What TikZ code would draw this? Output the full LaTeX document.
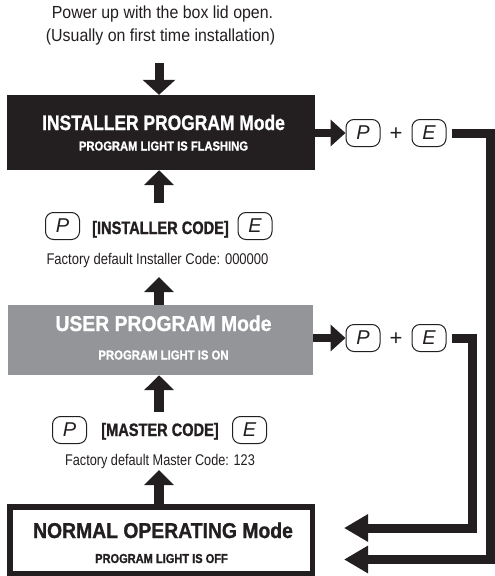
\documentclass[tikz,border=0pt]{standalone}
\usepackage{fontspec}
\setmainfont{Liberation Sans}
\usetikzlibrary{arrows.meta}
\definecolor{ink}{HTML}{231F20}
\definecolor{greybox}{HTML}{939598}
\newcommand\fsz[2]{\fontsize{#1}{#1}\selectfont\addfontfeatures{FakeStretch=#2}}
\newcommand\fbz[2]{\fontsize{#1}{#1}\selectfont\bfseries\addfontfeatures{FakeStretch=#2,FakeBold=1.1}}
\begin{document}
\begin{tikzpicture}[x=1pt,y=-1pt,
  txt/.style={anchor=base, inner sep=0pt, text=ink},
  keycap/.style={draw=ink, line width=1pt, rounded corners=8pt, minimum width=34pt, minimum height=27pt, inner sep=0pt, font=\fontsize{20}{20}\selectfont\itshape, text=ink},
  vdown/.style={draw=ink, line width=9pt, -{Triangle[length=15pt,width=32pt]}},
  vup/.style={draw=ink, line width=10pt, -{Triangle[length=15pt,width=29pt]}},
  hright/.style={draw=ink, line width=8.5pt, -{Triangle[length=15pt,width=26pt]}},
  loopline/.style={draw=ink, line width=9pt, line join=miter, -{Triangle[length=24pt,width=26pt]}}
]
\useasboundingbox (0,0) rectangle (495,576);

% top text
\node[txt, font={\fsz{17.5}{0.91}}] (l1) at (162.5,18.3) {Power up with the box lid open.};
\node[txt, font={\fsz{17.5}{0.91}}] (l2) at (160.5,41.7) {(Usually on first time installation)};

% installer box
\node[fill=ink, minimum width=308pt, minimum height=75pt, inner sep=0pt] (inst) at (161,132.5) {};
\node[txt, text=white, font={\fbz{21}{0.83}}] (instt) at (163.5,130) {INSTALLER PROGRAM Mode};
\node[txt, text=white, font={\fbz{13}{0.86}}] (insts) at (163.5,150.5) {PROGRAM LIGHT IS FLASHING};

% installer code row
\node[keycap] (ip) at (62.5,226) {P};
\node[txt, font={\fbz{18}{0.81}}] (icode) at (160.5,234) {[INSTALLER CODE]};
\node[keycap] (ie) at (255,226) {E};
\node[txt, font={\fsz{15.5}{0.84}}] (idef) at (157.5,264) {Factory default Installer Code: 000000};

% user box
\node[fill=greybox, minimum width=305pt, minimum height=70pt, inner sep=0pt] (user) at (160.5,340) {};
\node[txt, text=white, font={\fbz{21.5}{0.9}}] (usert) at (163.5,331) {USER PROGRAM Mode};
\node[txt, text=white, font={\fbz{13}{0.87}}] (users) at (163.5,359.5) {PROGRAM LIGHT IS ON};

% master code row
\node[keycap] (mp) at (69.5,430) {P};
\node[txt, font={\fbz{18}{0.81}}] (mcode) at (160,436) {[MASTER CODE]};
\node[keycap] (me) at (249.5,430) {E};
\node[txt, font={\fsz{15.5}{0.82}}] (mdef) at (160,465) {Factory default Master Code: 123};

% normal box
\node[draw=ink, line width=5.5pt, fill=white, minimum width=302.5pt, minimum height=66.5pt, inner sep=0pt] (norm) at (161,540) {};
\node[txt, font={\fbz{21.5}{0.9}}] (normt) at (163,538) {NORMAL OPERATING Mode};
\node[txt, font={\fbz{13}{0.85}}] (norms) at (161.5,563) {PROGRAM LIGHT IS OFF};

% right side keys
\node[keycap] (tp) at (363,133) {P};
\node[txt, font=\fontsize{22}{22}\selectfont] (tplus) at (396,140.5) {+};
\node[keycap] (te) at (429,133) {E};
\node[keycap] (up) at (363,338) {P};
\node[txt, font=\fontsize{22}{22}\selectfont] (uplus) at (396,345.5) {+};
\node[keycap] (ue) at (429,338) {E};

% vertical arrows
\coordinate (d0) at (159,63);
\draw[vdown] (d0) -- (d0 |- inst.north);
\coordinate (u1) at (159,203);
\draw[vup] (u1) -- (u1 |- inst.south);
\coordinate (u2) at (159,277);
\draw[vup] (u2 |- user.north) -- (u2);
\coordinate (u3) at (159,412);
\draw[vup] (u3) -- (u3 |- user.south);
\coordinate (u4) at (159,470);
\draw[vup] (u4 |- norm.north) -- (u4);

% right arrows
\draw[hright] (inst.east |- tp) -- (tp.west);
\draw[hright] (user.east |- up) -- (up.west);

% loop lines back to normal mode
\coordinate (c1) at (490.5,133);
\coordinate (c2) at (490.5,559.5);
\coordinate (t1) at (344,559.5);
\draw[loopline] ([xshift=5pt]te.east) -- (c1) -- (c2) -- (t1);
\coordinate (c3) at (472,338);
\coordinate (c4) at (472,528);
\coordinate (t2) at (344,528);
\draw[loopline] ([xshift=5pt]ue.east) -- (c3) -- (c4) -- (t2);
\end{tikzpicture}
\end{document}
